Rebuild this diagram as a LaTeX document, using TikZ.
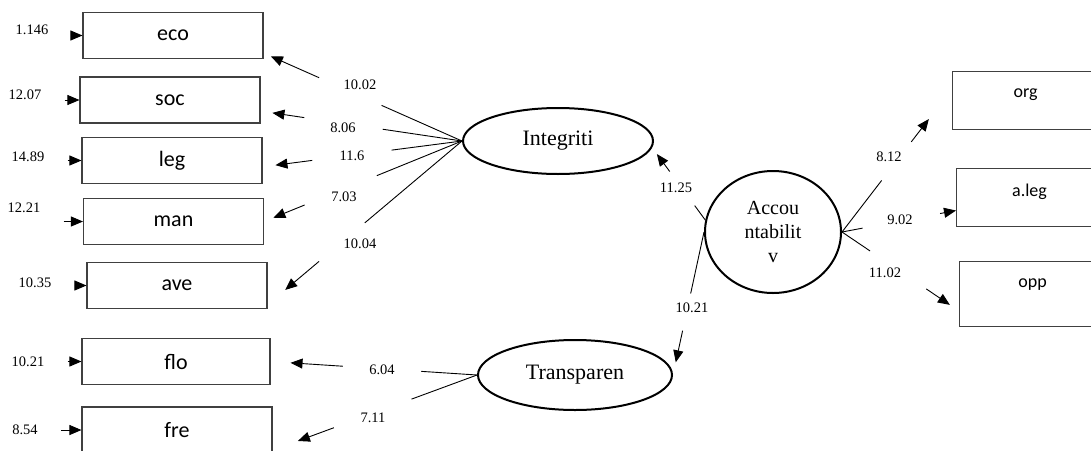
\documentclass[tikz,border=0pt]{standalone}
\usepackage{fontspec}
\setmainfont{Liberation Serif}
\newfontfamily\calfont{Carlito}
\usetikzlibrary{arrows.meta,calc,shapes.geometric}

\begin{document}
\begin{tikzpicture}
  [
    x=1pt,y=-1pt,
    ind/.style={rectangle,draw=black!75,line width=1.1pt,minimum width=180pt,minimum height=46pt,font=\calfont\fontsize{22}{26}\selectfont},
    outind/.style={rectangle,draw=black!75,line width=1.1pt,minimum width=146pt,minimum height=58pt,anchor=north west},
    outlab/.style={anchor=center,label distance=-24pt,font=\calfont\fontsize{18}{22}\selectfont},
    latent/.style={ellipse,draw,line width=2pt,font=\fontsize{22}{26}\selectfont},
    coef/.style={font=\fontsize{14.5}{17}\selectfont,inner sep=2pt},
    err/.style={font=\fontsize{14.5}{17}\selectfont,inner sep=3pt},
    link/.style={line width=0.9pt},
    arr/.style={line width=0.9pt,-{Triangle[length=12pt,width=10pt]}},
  ]
  \useasboundingbox (0,0) rectangle (1091,450);

  % latent variables
  \node[latent,minimum width=190pt,minimum height=66pt] (intg)  at (558,141) {Integriti};
  \node[latent,minimum width=194pt,minimum height=70pt] (trans) at (575,375) {Transparen};
  \node[latent,minimum width=136pt,minimum height=122pt,align=center,
        font=\fontsize{20}{24}\selectfont] (acc) at (773,232) {Accou\\ntabilit\\v};

  % indicators
  \node[ind] (eco) at (173,35.5)  {eco};
  \node[ind] (soc) at (170,100)   {soc};
  \node[ind] (leg) at (172,160.5) {leg};
  \node[ind] (man) at (173.5,221.5) {man};
  \node[ind] (ave) at (177,285.5) {ave};
  \node[ind,minimum width=188pt] (flo) at (176,361.5) {flo};
  \node[ind,minimum width=190pt] (fre) at (177,430)   {fre};

  \node[outind,label={[outlab]north:org}]   (org)  at (952,71)  {};
  \node[outind,label={[outlab]north:a.leg}] (aleg) at (956,168) {};
  \node[outind,minimum height=65pt,label={[outlab]north:opp}] (opp) at (959,261) {};

  % error terms
  \node[err] (e1) at (32,30)  {1.146};
  \node[err] (e2) at (25,95)  {12.07};
  \node[err] (e3) at (28,157) {14.89};
  \node[err] (e4) at (24,208) {12.21};
  \node[err] (e5) at (35,283) {10.35};
  \node[err] (e6) at (28,362) {10.21};
  \node[err] (e7) at (25,430) {8.54};
  \foreach \e/\b in {e1/eco,e2/soc,e3/leg,e4/man,e5/ave,e6/flo,e7/fre}
    \draw[arr,shorten <=20pt] (\e.east |- \b.west) -- (\b.west);

  % coefficients
  \node[coef] (c1)  at (360,85)  {10.02};
  \node[coef] (c2)  at (343,128) {8.06};
  \node[coef] (c3)  at (352,156) {11.6};
  \node[coef] (c4)  at (344,197) {7.03};
  \node[coef] (c5)  at (360,244) {10.04};
  \node[coef] (c6)  at (382,370) {6.04};
  \node[coef] (c7)  at (373,418) {7.11};
  \node[coef] (c8)  at (676,188) {11.25};
  \node[coef] (c9)  at (692,308) {10.21};
  \node[coef] (c10) at (889,157) {8.12};
  \node[coef] (c11) at (900,220) {9.02};
  \node[coef] (c12) at (885,273) {11.02};

  % loadings, broken where the coefficient sits
  \foreach \s/\t/\a/\b/\d in {intg.west/eco.-11/.405/.72/8,
                              intg.west/soc.-7/.394/.783/12,
                              intg.west/leg.-4/.353/.751/13,
                              intg.west/man.0/.43/.795/10,
                              intg.west/ave.-12/.5/.735/23,
                              trans.west/flo.east/.27/.65/20,
                              trans.west/fre.-12/.32/.70/27,
                              acc.170/intg.-4/.2/.67/8,
                              acc.west/trans.east/.43/.69/13,
                              acc.east/org.171/.36/.63/38,
                              acc.east/aleg.190/.18/.86/0,
                              acc.east/opp.193/.24/.72/11}
  {
    \draw[link] (\s) -- ($(\s)!\a!(\t)$);
    \draw[arr,shorten >=\d pt] ($(\s)!\b!(\t)$) -- (\t);
  }
\end{tikzpicture}
\end{document}
